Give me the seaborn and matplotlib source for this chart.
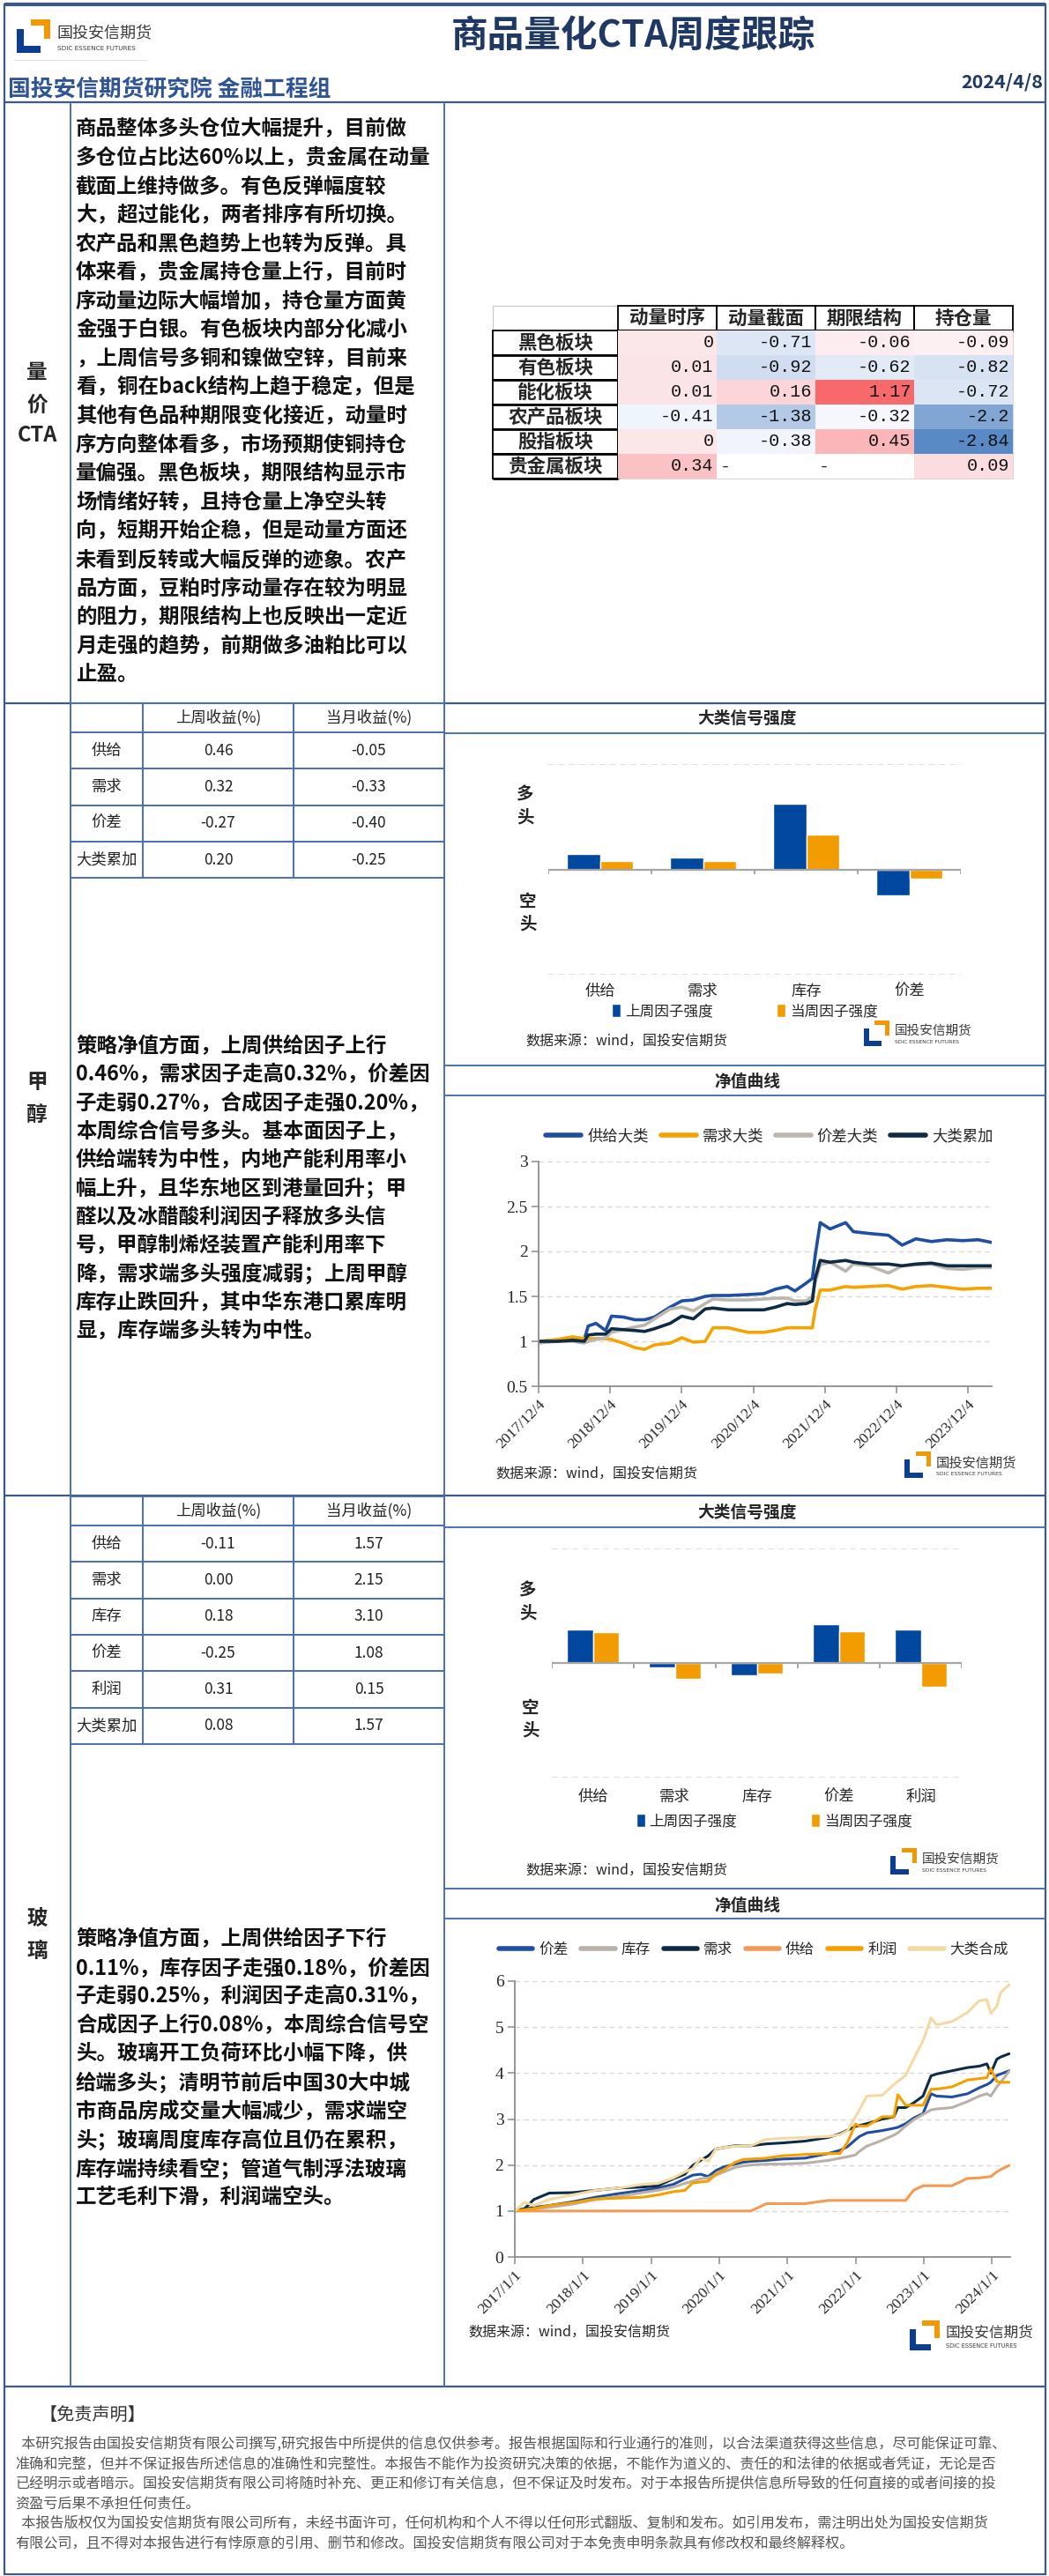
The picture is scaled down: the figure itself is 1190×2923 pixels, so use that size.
import numpy as np
import pandas as pd
import seaborn as sns
import matplotlib.pyplot as plt
from matplotlib.patches import Rectangle
from matplotlib.colors import LinearSegmentedColormap, TwoSlopeNorm

sns.set_theme(style='white')
plt.rcParams['font.family'] = ['Noto Sans CJK SC', 'DejaVu Sans']
plt.rcParams['axes.unicode_minus'] = False

W, H = 1190, 2923

# ---------------- data ----------------
title = '商品量化CTA周度跟踪'
subtitle = '国投安信期货研究院 金融工程组'
report_date = '2024/4/8'
source = '数据来源：wind，国投安信期货'

# 量价CTA heatmap
cta_rows = ['黑色板块', '有色板块', '能化板块', '农产品板块', '股指板块', '贵金属板块']
cta_cols = ['动量时序', '动量截面', '期限结构', '持仓量']
cta_ts = [0, 0.01, 0.01, -0.41, 0, 0.34]
cta_cs = [-0.71, -0.92, 0.16, -1.38, -0.38, np.nan]
cta_term = [-0.06, -0.62, 1.17, -0.32, 0.45, np.nan]
cta_oi = [-0.09, -0.82, -0.72, -2.2, -2.84, 0.09]

cta_text = [
    '商品整体多头仓位大幅提升，目前做',
    '多仓位占比达60%以上，贵金属在动量',
    '截面上维持做多。有色反弹幅度较',
    '大，超过能化，两者排序有所切换。',
    '农产品和黑色趋势上也转为反弹。具',
    '体来看，贵金属持仓量上行，目前时',
    '序动量边际大幅增加，持仓量方面黄',
    '金强于白银。有色板块内部分化减小',
    '，上周信号多铜和镍做空锌，目前来',
    '看，铜在back结构上趋于稳定，但是',
    '其他有色品种期限变化接近，动量时',
    '序方向整体看多，市场预期使铜持仓',
    '量偏强。黑色板块，期限结构显示市',
    '场情绪好转，且持仓量上净空头转',
    '向，短期开始企稳，但是动量方面还',
    '未看到反转或大幅反弹的迹象。农产',
    '品方面，豆粕时序动量存在较为明显',
    '的阻力，期限结构上也反映出一定近',
    '月走强的趋势，前期做多油粕比可以',
    '止盈。',
]

# 甲醇
ma_factors = ['供给', '需求', '价差', '大类累加']
ma_week = [0.46, 0.32, -0.27, 0.20]
ma_month = [-0.05, -0.33, -0.40, -0.25]
ma_bar_factors = ['供给', '需求', '库存', '价差']
ma_bar_last = [0.15, 0.11, 0.62, -0.25]
ma_bar_curr = [0.08, 0.08, 0.33, -0.09]
ma_text = [
    '策略净值方面，上周供给因子上行',
    '0.46%，需求因子走高0.32%，价差因',
    '子走弱0.27%，合成因子走强0.20%，',
    '本周综合信号多头。基本面因子上，',
    '供给端转为中性，内地产能利用率小',
    '幅上升，且华东地区到港量回升；甲',
    '醛以及冰醋酸利润因子释放多头信',
    '号，甲醇制烯烃装置产能利用率下',
    '降，需求端多头强度减弱；上周甲醇',
    '库存止跌回升，其中华东港口累库明',
    '显，库存端多头转为中性。',
]
ma_dates = ['2017-12-04', '2018-03-08', '2018-05-26', '2018-07-25', '2018-08-14', '2018-09-23',
            '2018-11-11', '2018-12-11', '2019-02-09', '2019-04-10', '2019-05-29', '2019-07-18',
            '2019-10-06', '2019-12-05', '2020-02-02', '2020-04-02', '2020-05-12', '2020-07-30',
            '2020-11-07', '2021-01-26', '2021-03-26', '2021-05-25', '2021-07-04', '2021-09-01',
            '2021-10-01', '2021-10-15', '2021-11-10', '2021-12-30', '2022-03-20', '2022-04-28',
            '2022-07-17', '2022-10-24', '2023-01-02', '2023-03-13', '2023-05-31', '2023-08-19',
            '2023-11-07', '2024-01-25', '2024-04-03']
ma_supply = [1.0, 1.01, 1.02, 1.02, 1.17, 1.2, 1.12, 1.28, 1.27, 1.24, 1.24, 1.27, 1.38, 1.45,
             1.46, 1.5, 1.51, 1.51, 1.52, 1.53, 1.58, 1.61, 1.56, 1.65, 1.7, 1.95, 2.32, 2.25,
             2.32, 2.22, 2.2, 2.18, 2.07, 2.14, 2.11, 2.13, 2.12, 2.13, 2.10]
ma_demand = [1.0, 1.02, 1.05, 1.03, 1.03, 1.03, 1.03, 1.02, 0.98, 0.93, 0.91, 0.96, 0.98, 1.04,
             0.99, 1.0, 1.15, 1.15, 1.1, 1.1, 1.12, 1.15, 1.15, 1.15, 1.15, 1.35, 1.57, 1.57,
             1.61, 1.6, 1.61, 1.62, 1.58, 1.61, 1.62, 1.6, 1.58, 1.59, 1.59]
ma_spread = [0.98, 1.0, 1.0, 0.98, 1.0, 1.02, 1.04, 1.1, 1.13, 1.16, 1.18, 1.25, 1.36, 1.38,
             1.34, 1.42, 1.47, 1.46, 1.46, 1.47, 1.48, 1.48, 1.45, 1.45, 1.5, 1.65, 1.85, 1.88,
             1.78, 1.86, 1.84, 1.76, 1.84, 1.85, 1.86, 1.81, 1.8, 1.82, 1.82]
ma_total = [1.0, 1.0, 1.01, 1.0, 1.07, 1.08, 1.08, 1.14, 1.13, 1.12, 1.11, 1.14, 1.2, 1.28,
            1.25, 1.36, 1.37, 1.35, 1.35, 1.35, 1.38, 1.42, 1.41, 1.42, 1.45, 1.7, 1.9, 1.88,
            1.9, 1.88, 1.86, 1.86, 1.84, 1.86, 1.87, 1.84, 1.84, 1.84, 1.84]
ma_names = ['供给大类', '需求大类', '价差大类', '大类累加']
ma_colors = ['#1f4fa0', '#f5a300', '#bdb6ae', '#0d2b45']
ma_xticks = ['2017-12-04', '2018-12-04', '2019-12-04', '2020-12-04', '2021-12-04', '2022-12-04', '2023-12-04']
ma_xlabels = ['2017/12/4', '2018/12/4', '2019/12/4', '2020/12/4', '2021/12/4', '2022/12/4', '2023/12/4']

# 玻璃
fg_factors = ['供给', '需求', '库存', '价差', '利润', '大类累加']
fg_week = [-0.11, 0.00, 0.18, -0.25, 0.31, 0.08]
fg_month = [1.57, 2.15, 3.10, 1.08, 0.15, 1.57]
fg_bar_factors = ['供给', '需求', '库存', '价差', '利润']
fg_bar_last = [0.29, -0.04, -0.11, 0.34, 0.29]
fg_bar_curr = [0.27, -0.14, -0.09, 0.28, -0.21]
fg_text = [
    '策略净值方面，上周供给因子下行',
    '0.11%，库存因子走强0.18%，价差因',
    '子走弱0.25%，利润因子走高0.31%，',
    '合成因子上行0.08%，本周综合信号空',
    '头。玻璃开工负荷环比小幅下降，供',
    '给端多头；清明节前后中国30大中城',
    '市商品房成交量大幅减少，需求端空',
    '头；玻璃周度库存高位且仍在累积，',
    '库存端持续看空；管道气制浮法玻璃',
    '工艺毛利下滑，利润端空头。',
]
fg_dates = ['2017-01-01', '2017-02-22', '2017-04-13', '2017-07-05', '2017-11-07', '2018-03-10',
            '2018-07-13', '2018-11-16', '2019-02-07', '2019-04-30', '2019-07-01', '2019-08-12',
            '2019-09-23', '2019-11-03', '2019-12-14', '2020-01-26', '2020-03-27', '2020-05-08',
            '2020-06-19', '2020-09-10', '2020-12-02', '2021-04-05', '2021-08-07', '2021-10-09',
            '2021-11-19', '2021-12-31', '2022-01-21', '2022-03-02', '2022-05-24', '2022-07-25',
            '2022-08-15', '2022-09-26', '2022-11-07', '2022-12-28', '2023-02-09', '2023-03-10',
            '2023-06-01', '2023-08-23', '2023-10-25', '2023-12-05', '2023-12-26', '2024-01-27',
            '2024-02-17', '2024-04-02']
fg_spread = [1.0, 1.05, 1.08, 1.12, 1.2, 1.3, 1.38, 1.45, 1.5, 1.58, 1.7, 1.78, 1.8, 1.75, 1.88,
             1.96, 2.02, 2.06, 2.08, 2.1, 2.13, 2.15, 2.25, 2.32, 2.4, 2.55, 2.62, 2.7, 2.75, 2.8,
             2.82, 2.9, 3.02, 3.12, 3.55, 3.5, 3.48, 3.55, 3.68, 3.75, 3.8, 3.95, 3.98, 4.05]
fg_stock = [1.0, 1.02, 1.05, 1.08, 1.15, 1.25, 1.32, 1.4, 1.45, 1.52, 1.6, 1.65, 1.7, 1.72, 1.78,
            1.85, 1.95, 1.98, 2.0, 2.02, 2.02, 2.04, 2.1, 2.15, 2.18, 2.22, 2.3, 2.41, 2.54, 2.65,
            2.7, 2.85, 2.98, 3.1, 3.2, 3.22, 3.25, 3.38, 3.5, 3.55, 3.5, 3.7, 3.8, 4.04]
fg_demand = [1.0, 1.05, 1.25, 1.39, 1.4, 1.45, 1.5, 1.52, 1.55, 1.7, 1.8, 1.99, 2.1, 2.2, 2.35,
             2.38, 2.42, 2.42, 2.42, 2.46, 2.48, 2.52, 2.6, 2.68, 2.76, 2.84, 2.86, 2.9, 3.0, 3.05,
             3.25, 3.25, 3.35, 3.5, 3.94, 3.98, 4.05, 4.12, 4.15, 4.2, 4.0, 4.3, 4.35, 4.42]
fg_supply = [1.0, 1.0, 1.0, 1.0, 1.0, 1.0, 1.0, 1.0, 1.0, 1.0, 1.0, 1.0, 1.0, 1.0, 1.0,
             1.0, 1.0, 1.0, 1.0, 1.16, 1.16, 1.16, 1.23, 1.23, 1.23, 1.23, 1.23, 1.23, 1.23, 1.23,
             1.23, 1.23, 1.45, 1.55, 1.55, 1.55, 1.55, 1.71, 1.72, 1.74, 1.75, 1.85, 1.9, 1.99]
fg_profit = [1.0, 1.03, 1.05, 1.12, 1.18, 1.26, 1.28, 1.3, 1.35, 1.42, 1.45, 1.61, 1.63, 1.65, 1.8,
             1.9, 2.06, 2.12, 2.13, 2.15, 2.2, 2.23, 2.25, 2.25, 2.5, 2.89, 2.85, 2.85, 3.05, 3.05,
             3.53, 3.3, 3.3, 3.3, 3.65, 3.65, 3.7, 3.85, 3.88, 3.9, 4.1, 3.82, 3.8, 3.8]
fg_total = [1.0, 1.19, 1.12, 1.25, 1.35, 1.45, 1.5, 1.58, 1.6, 1.72, 1.85, 1.92, 2.15, 2.08, 2.35,
            2.38, 2.41, 2.42, 2.42, 2.56, 2.58, 2.6, 2.62, 2.66, 2.75, 3.05, 3.2, 3.5, 3.52, 3.75,
            3.82, 3.95, 4.3, 4.7, 5.2, 5.05, 5.12, 5.32, 5.57, 5.6, 5.3, 5.45, 5.75, 5.92]
fg_names = ['价差', '库存', '需求', '供给', '利润', '大类合成']
fg_colors = ['#1f4fa0', '#b9b1a9', '#0d2b45', '#f39a55', '#f5a000', '#f3d9a4']
fg_xticks = ['2017-01-01', '2018-01-01', '2019-01-01', '2020-01-01', '2021-01-01', '2022-01-01', '2023-01-01', '2024-01-01']
fg_xlabels = ['2017/1/1', '2018/1/1', '2019/1/1', '2020/1/1', '2021/1/1', '2022/1/1', '2023/1/1', '2024/1/1']

disclaimer = [
    '  本研究报告由国投安信期货有限公司撰写,研究报告中所提供的信息仅供参考。报告根据国际和行业通行的准则，以合法渠道获得这些信息，尽可能保证可靠、',
    '准确和完整，但并不保证报告所述信息的准确性和完整性。本报告不能作为投资研究决策的依据，不能作为道义的、责任的和法律的依据或者凭证，无论是否',
    '已经明示或者暗示。国投安信期货有限公司将随时补充、更正和修订有关信息，但不保证及时发布。对于本报告所提供信息所导致的任何直接的或者间接的投',
    '资盈亏后果不承担任何责任。',
    '  本报告版权仅为国投安信期货有限公司所有，未经书面许可，任何机构和个人不得以任何形式翻版、复制和发布。如引用发布，需注明出处为国投安信期货',
    '有限公司，且不得对本报告进行有悖原意的引用、删节和修改。国投安信期货有限公司对于本免责申明条款具有修改权和最终解释权。',
]

BLUE = '#0047a0'
ORANGE = '#f39c00'
LINE = '#4a6fb0'
FRAME = '#3b5a87'


def rect(x0, y0, x1, y1):
    return [x0 / W, 1 - y1 / H, (x1 - x0) / W, (y1 - y0) / H]


fig = plt.figure(figsize=(W / 100, H / 100), dpi=100)
page = fig.add_axes([0, 0, 1, 1])
page.set_xlim(0, W)
page.set_ylim(H, 0)
page.axis('off')


def hline(y, x0=5, x1=1186, color=LINE, lw=1.4):
    page.plot([x0, x1], [y, y], color=color, lw=lw, solid_capstyle='butt')


def vline(x, y0, y1, color=LINE, lw=1.4):
    page.plot([x, x], [y0, y1], color=color, lw=lw, solid_capstyle='butt')


def draw_logo(x, y, s, name_size, sub_size):
    page.add_patch(Rectangle((x + 0.42 * s, y), 0.58 * s, 0.58 * s, color='#f39800', lw=0))
    page.add_patch(Rectangle((x, y + 0.3 * s), 0.7 * s, 0.7 * s, color='#0b3d91', lw=0))
    page.add_patch(Rectangle((x + 0.2 * s, y + 0.18 * s), 0.62 * s, 0.62 * s, color='white', lw=0))
    page.text(x + 1.2 * s, y + 0.42 * s, '国投安信期货', fontsize=name_size, color='#3a3a3a', va='center')
    page.text(x + 1.2 * s, y + 0.86 * s, 'SDIC ESSENCE FUTURES', fontsize=sub_size, color='#3a3a3a',
              va='center', family='DejaVu Sans')


def text_block(lines, y0, dy):
    for i, line in enumerate(lines):
        page.text(86, y0 + i * dy, line, fontsize=16.9, fontweight='bold', va='center', color='#111111')


# ---------------- frame / header ----------------
page.add_patch(Rectangle((5, 5), 1181, 2916, fill=False, ec=FRAME, lw=1.6))
hline(5, color=FRAME, lw=3)
draw_logo(19, 22, 38, 13, 5.2)
hline(68, 15, 167, color='#e4e4e4', lw=0.8)
page.text(718, 41, title, ha='center', va='center', fontsize=30, fontweight='bold', color='#203864')
page.text(9, 101, subtitle, ha='left', va='center', fontsize=18.5, fontweight='bold', color='#2f5597')
page.text(1183, 93, report_date, ha='right', va='center', fontsize=15.5, fontweight='bold', color='#203864')

# grid of the main table
hline(116, color=FRAME, lw=1.6)
for y in [798, 1697, 2708]:
    hline(y, color=FRAME, lw=1.6)
vline(80, 116, 2708)
vline(504, 116, 2708)
for y in [832, 1209, 1243, 1733, 2143, 2177]:
    hline(y, 504, 1186)

# section labels
for txt, y in zip(['量', '价', 'CTA'], [423, 460, 494]):
    page.text(42, y, txt, ha='center', va='center', fontsize=17, fontweight='bold')
for txt, y in zip(['甲', '醇'], [1228, 1265]):
    page.text(42, y, txt, ha='center', va='center', fontsize=17, fontweight='bold')
for txt, y in zip(['玻', '璃'], [2177, 2214]):
    page.text(42, y, txt, ha='center', va='center', fontsize=17, fontweight='bold')

text_block(cta_text, 146, 32.6)
text_block(ma_text, 1187, 32.3)
text_block(fg_text, 2200, 32.6)

# ---------------- CTA heatmap ----------------
hm = pd.DataFrame({c: v for c, v in zip(cta_cols, [cta_ts, cta_cs, cta_term, cta_oi])}, index=cta_rows)
vals = hm.to_numpy(dtype=float)
ax_hm = fig.add_axes(rect(701, 375, 1149, 543))
cmap = LinearSegmentedColormap.from_list('excel3', ['#5a8ac6', '#fcfcff', '#f8696b'])
norm = TwoSlopeNorm(vmin=np.nanmin(vals), vcenter=np.nanmedian(vals), vmax=np.nanmax(vals))
sns.heatmap(hm, ax=ax_hm, cmap=cmap, norm=norm, cbar=False, linewidths=0)
for i in range(len(cta_rows)):
    for j in range(len(cta_cols)):
        v = vals[i, j]
        if np.isnan(v):
            ax_hm.text(j + 0.03, i + 0.5, '-', ha='left', va='center', fontsize=14.5, family='Liberation Mono')
        else:
            ax_hm.text(j + 0.97, i + 0.5, f'{v:g}', ha='right', va='center', fontsize=14.5,
                       family='Liberation Mono', color='#111111')
ax_hm.xaxis.tick_top()
ax_hm.set_xticklabels(cta_cols, fontsize=15.5, fontweight='bold', rotation=0, va='center')
ax_hm.set_yticklabels(cta_rows, fontsize=15.5, fontweight='bold', rotation=0, ha='center')
ax_hm.tick_params(axis='x', length=0, pad=10, top=False, bottom=False, labeltop=True, labelbottom=False)
ax_hm.tick_params(axis='y', length=0, pad=51)
ax_hm.set_xlabel('')
ax_hm.set_ylabel('')
# borders like the excel table
page.add_patch(Rectangle((559, 347), 142, 28, fill=False, ec='#c8c8c8', lw=0.8))
for j in range(len(cta_cols)):
    page.add_patch(Rectangle((701 + j * 112, 347), 112, 28, fill=False, ec='black', lw=1.3))
for i in range(len(cta_rows)):
    page.add_patch(Rectangle((559, 375 + i * 28), 142, 28, fill=False, ec='black', lw=1.3))
    hline(375 + (i + 1) * 28, 559, 701, color='black', lw=2)
hline(375, 701, 1149, color='black', lw=2.2)
vline(701, 375, 543, color='black', lw=2)
page.add_patch(Rectangle((701, 375), 448, 168, fill=False, ec='#d6d6d6', lw=0.8))


# ---------------- returns tables ----------------
def returns_table(y0, factors, week, month):
    n = len(factors)
    ax = fig.add_axes(rect(80, y0, 504, y0 + 33 + 41.3 * n))
    ax.axis('off')
    cells = [[f, f'{a:.2f}', f'{b:.2f}'] for f, a, b in zip(factors, week, month)]
    tb = ax.table(cellText=cells, colLabels=['', '上周收益(%)', '当月收益(%)'], cellLoc='center', bbox=[0, 0, 1, 1])
    tb.auto_set_font_size(False)
    tb.set_fontsize(12.5)
    widths = [82, 171, 171]
    for (r, c), cell in tb.get_celld().items():
        cell.set_width(widths[c])
        cell.set_height(33 if r == 0 else 41.3)
        cell.set_edgecolor(LINE)
        cell.set_linewidth(1.4)
        cell.get_text().set_color('#222222')


returns_table(798, ma_factors, ma_week, ma_month)
returns_table(1698, fg_factors, fg_week, fg_month)


# ---------------- signal bar charts ----------------
def bar_panel(box, factors, last, curr, title_y, long_y, short_y, lbl_x, leg_xy, colsp, lab_pad, src_y, logo):
    n = len(factors)
    page.text(848, title_y, '大类信号强度', ha='center', va='center', fontsize=13.5, fontweight='bold')
    ax = fig.add_axes(rect(*box))
    ax.set_facecolor('none')
    df = pd.DataFrame({'factor': factors * 2, 'strength': last + curr,
                       'series': ['上周因子强度'] * n + ['当周因子强度'] * n})
    sns.barplot(data=df, x='factor', y='strength', hue='series', palette=[BLUE, ORANGE],
                width=0.64, saturation=1, ax=ax)
    ax.set_ylim(-1, 1)
    ax.set_xlim(-0.5, n - 0.5)
    ax.axhline(1, color='#d9d9d9', ls=(0, (4, 3)), lw=1.2)
    ax.axhline(-1, color='#d9d9d9', ls=(0, (4, 3)), lw=1.2)
    ax.axhline(0, color='#a6a6a6', lw=1.6)
    ax.vlines(np.arange(n + 1) - 0.5, -0.045, 0, color='#a6a6a6', lw=1.4)
    for s in ax.spines.values():
        s.set_visible(False)
    ax.set_yticks([])
    ax.set_xlabel('')
    ax.set_ylabel('')
    ax.tick_params(axis='x', length=0, pad=lab_pad, labelsize=12.5)
    handles, labels = ax.get_legend_handles_labels()
    ax.legend(handles, labels, ncol=2, loc='center', bbox_to_anchor=(leg_xy[0] / W, 1 - leg_xy[1] / H),
              bbox_transform=fig.transFigure, frameon=False, fontsize=12, handlelength=0.6,
              handleheight=1.0, handletextpad=0.3, columnspacing=colsp)
    page.text(lbl_x, long_y, '多', ha='center', va='center', fontsize=14, fontweight='bold')
    page.text(lbl_x, long_y + 26, '头', ha='center', va='center', fontsize=14, fontweight='bold')
    page.text(lbl_x + 3, short_y, '空', ha='center', va='center', fontsize=14, fontweight='bold')
    page.text(lbl_x + 3, short_y + 26, '头', ha='center', va='center', fontsize=14, fontweight='bold')
    page.text(596, src_y, source, ha='left', va='center', fontsize=11.5)
    draw_logo(*logo)


bar_panel((622, 867, 1090, 1106), ma_bar_factors, ma_bar_last, ma_bar_curr, 815, 902, 1023, 596,
          (845, 1148), 4.3, 7, 1182, (980, 1158, 29, 10.5, 4.3))
bar_panel((626, 1757, 1091, 2017), fg_bar_factors, fg_bar_last, fg_bar_curr, 1716, 1805, 1938, 599,
          (878, 2067), 5.0, 9, 2123, (1010, 2097, 30, 10.5, 4.3))


# ---------------- net value curves ----------------
def line_panel(box, title_y, dates, names, series, colors, ylim, yticks, xticks, xlabels, xlim,
               lw, leg_xy, leg_size, colsp, src_xy, logo):
    page.text(848, title_y, '净值曲线', ha='center', va='center', fontsize=13.5, fontweight='bold')
    ax = fig.add_axes(rect(*box))
    ax.set_facecolor('none')
    df = pd.concat([pd.DataFrame({'date': pd.to_datetime(dates), 'value': v, 'series': nm})
                    for nm, v in zip(names, series)], ignore_index=True)
    sns.lineplot(data=df, x='date', y='value', hue='series', hue_order=names, palette=colors,
                 linewidth=lw, estimator=None, ax=ax)
    ax.set_ylim(*ylim)
    ax.set_yticks(yticks)
    ax.set_yticklabels([f'{t:g}' for t in yticks], family='Liberation Serif', fontsize=14)
    ax.set_xlim(pd.Timestamp(xlim[0]), pd.Timestamp(xlim[1]))
    ax.set_xticks(pd.to_datetime(xticks))
    ax.set_xticklabels(xlabels, rotation=45, ha='right', rotation_mode='anchor',
                       family='Liberation Serif', fontsize=12.5)
    ax.yaxis.grid(True, color='#d9d9d9', ls=(0, (4, 3)), lw=1)
    ax.xaxis.grid(False)
    for side in ['top', 'right']:
        ax.spines[side].set_visible(False)
    for side in ['left', 'bottom']:
        ax.spines[side].set_color('#8c8c8c')
        ax.spines[side].set_linewidth(1.3)
    ax.tick_params(axis='both', bottom=True, left=True, direction='out', length=6, width=1.1,
                   color='#8c8c8c', pad=3)
    ax.set_xlabel('')
    ax.set_ylabel('')
    handles, labels = ax.get_legend_handles_labels()
    leg = ax.legend(handles, labels, ncol=len(names), loc='center',
                    bbox_to_anchor=(leg_xy[0] / W, 1 - leg_xy[1] / H), bbox_transform=fig.transFigure,
                    frameon=False, fontsize=leg_size, handlelength=2.3, handletextpad=0.4,
                    columnspacing=colsp)
    for h in leg.get_lines():
        h.set_linewidth(4)
    page.text(src_xy[0], src_xy[1], source, ha='left', va='center', fontsize=11.5)
    draw_logo(*logo)


line_panel((611, 1318, 1125, 1573), 1227, ma_dates, ma_names,
           [ma_supply, ma_demand, ma_spread, ma_total], ma_colors, (0.5, 3),
           [0.5, 1, 1.5, 2, 2.5, 3], ma_xticks, ma_xlabels, ('2017-12-04', '2024-04-03'),
           2.6, (873, 1289), 12.5, 0.8, (562, 1673), (1026, 1647, 30, 11, 4.4))
line_panel((584, 2248, 1146, 2561), 2162, fg_dates, fg_names,
           [fg_spread, fg_stock, fg_demand, fg_supply, fg_profit, fg_total], fg_colors, (0, 6),
           [0, 1, 2, 3, 4, 5, 6], fg_xticks, fg_xlabels, ('2017-01-01', '2024-04-08'),
           2.2, (855, 2212), 12, 0.9, (531, 2647), (1032, 2633, 34, 12, 4.8))

# ---------------- disclaimer ----------------
page.text(45, 2740, '【免责声明】', ha='left', va='center', fontsize=14.5, color='#333333')
for i, line in enumerate(disclaimer):
    page.text(17, 2773 + i * 22.6, line, ha='left', va='center', fontsize=11.6, color='#555555')

fig.savefig('out.png', dpi=100)
